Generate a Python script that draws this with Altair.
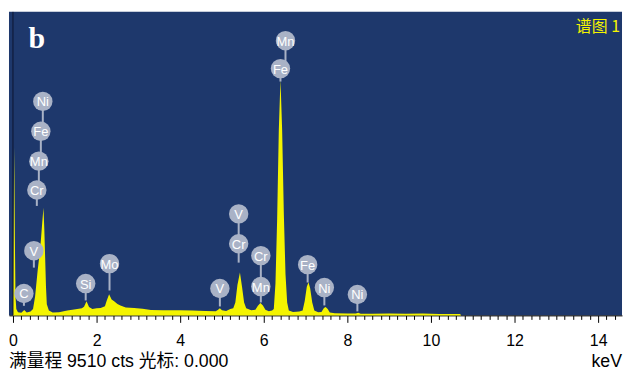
import altair as alt
import pandas as pd

# ---- spectrum (keV, counts) ----
energy_kev = [-0.09, 0.0, 0.02, 0.03, 0.045, 0.06, 0.08, 0.12, 0.20, 0.27, 0.33, 0.42,
              0.48, 0.53, 0.59, 0.63, 0.667, 0.70, 0.73, 0.75, 0.77, 0.79, 0.81, 0.86,
              0.95, 1.10, 1.30, 1.50, 1.65, 1.70, 1.76, 1.82, 1.90, 2.00, 2.10, 2.20,
              2.24, 2.30, 2.36, 2.42, 2.50, 2.57, 2.70, 2.90, 3.10, 3.30, 3.60, 4.00,
              4.30, 4.60, 4.85, 4.90, 4.95, 5.00, 5.10, 5.20, 5.27, 5.32, 5.37, 5.43,
              5.48, 5.53, 5.58, 5.70, 5.80, 5.86, 5.92, 5.98, 6.04, 6.12, 6.20, 6.24,
              6.28, 6.32, 6.36, 6.40, 6.44, 6.48, 6.52, 6.56, 6.60, 6.70, 6.85, 6.93,
              6.98, 7.03, 7.07, 7.11, 7.16, 7.21, 7.30, 7.38, 7.44, 7.48, 7.53, 7.58,
              7.70, 8.00, 8.20, 8.26, 8.32, 8.60, 9.00, 9.40, 9.80, 10.20, 10.50, 10.70,
              10.72, 14.6]
counts = [0, 0, 3500, 5270, 2500, 600, 200, 100, 80, 170, 90, 120,
          200, 600, 1400, 1850, 2340, 2900, 3370, 2700, 1810, 900, 350, 150,
          90, 100, 150, 190, 220, 270, 440, 260, 200, 220, 230, 290,
          450, 660, 500, 440, 360, 310, 250, 230, 210, 170, 160, 160,
          150, 140, 130, 170, 220, 160, 140, 200, 220, 400, 950, 1340,
          900, 400, 220, 160, 180, 300, 390, 310, 180, 130, 150, 200,
          1000, 3000, 5800, 7390, 5800, 3200, 1300, 400, 150, 110, 120, 150,
          450, 900, 1040, 850, 400, 150, 100, 110, 230, 260, 200, 90,
          70, 60, 60, 80, 55, 50, 60, 50, 60, 45, 40, 40,
          0, 0]

# ---- element badges ----
badge_text = ["Ni", "Fe", "Mn", "Cr", "V", "C", "Si", "Mo",
              "Mn", "Fe", "V", "Cr", "Cr", "Mn", "V", "Fe", "Ni", "Ni"]
badge_kev = [0.714, 0.667, 0.619, 0.571, 0.50, 0.262, 1.74, 2.31,
             6.52, 6.40, 5.40, 5.40, 5.93, 5.93, 4.95, 7.05, 7.45, 8.24]
badge_cts = [6704, 5768, 4833, 3929, 2027, 686, 998, 1621,
             8606, 7733, 3180, 2245, 1871, 904, 842, 1590, 873, 655]
stem_end_cts = [5768, 4833, 3929, 3430, 1497, 300, 468, 780,
                7733, 7327, 2245, 1653, 904, 405, 280, 1030, 312, 125]

tick_values = [round(i * 0.2, 1) for i in range(0, 73)]
label_values = [0, 2, 4, 6, 8, 10, 12, 14]

BLUE = "#1e386c"
YELLOW = "#f4f400"
BADGE = "#a9b2c6"

spec = pd.DataFrame({"keV": energy_kev, "cts": counts})
badges = pd.DataFrame({"label": badge_text, "keV": badge_kev,
                       "cts": badge_cts, "end": stem_end_cts})
cursor_df = pd.DataFrame({"keV": [0.0], "cts": [0]})

x_scale = alt.Scale(domain=[-0.095, 14.571], nice=False, zero=False)
y_scale = alt.Scale(domain=[0, 9510], nice=False)

is_major = "indexof(" + str(label_values) + ", datum.value) >= 0"

x_axis = alt.Axis(
    values=tick_values,
    labelExpr=is_major + " ? '' + datum.value : ''",
    tickSize={"condition": {"test": is_major, "value": 7}, "value": 4},
    tickColor="black", tickWidth=1,
    domainColor="black", domainWidth=1,
    labelFont="Liberation Sans", labelFontSize=16, labelColor="black",
    labelPadding=10, labelOverlap=False, labelFlush=False, labelBound=False,
    grid=False, title=None,
)


def X(field="keV:Q"):
    return alt.X(field, scale=x_scale, axis=x_axis)


def Y(field="cts:Q"):
    return alt.Y(field, scale=y_scale, axis=None)


area = alt.Chart(spec).mark_area(color=YELLOW, interpolate="linear").encode(
    x=X(), y=Y(),
)

cursor = alt.Chart(cursor_df).mark_rule(color="#0d1530", strokeWidth=1).encode(
    x=X(), y=alt.value(0), y2=alt.value(305),
)

stems = alt.Chart(badges).mark_rule(color=BADGE, strokeWidth=2).encode(
    x=X(), y=Y(), y2="end:Q",
)

circles = alt.Chart(badges).mark_circle(size=380, color=BADGE, opacity=1).encode(
    x=X(), y=Y(),
)

badge_labels = alt.Chart(badges).mark_text(
    color="white", font="Liberation Sans", fontSize=13,
    align="center", baseline="middle", dy=1
).encode(x=X(), y=Y(), text="label:N")

panel_letter = alt.Chart(pd.DataFrame({"t": ["b"]})).mark_text(
    color="white", font="Liberation Serif", fontWeight="bold", fontSize=30,
    align="center", baseline="alphabetic"
).encode(x=alt.value(28), y=alt.value(36), text="t:N")

spectrum_name = alt.Chart(pd.DataFrame({"t": ["谱图 1"]})).mark_text(
    color=YELLOW, font="Noto Sans CJK SC", fontSize=16,
    align="right", baseline="alphabetic"
).encode(x=alt.value(614), y=alt.value(20), text="t:N")

footer = alt.Chart(pd.DataFrame({"t": ["满量程 9510 cts 光标: 0.000"]})).mark_text(
    color="black", font="Liberation Sans, Noto Sans CJK SC", fontSize=17.8,
    align="left", baseline="alphabetic"
).encode(x=alt.value(0), y=alt.value(357), text="t:N")

unit = alt.Chart(pd.DataFrame({"t": ["keV"]})).mark_text(
    color="black", font="Liberation Sans", fontSize=17.8,
    align="right", baseline="alphabetic"
).encode(x=alt.value(616), y=alt.value(357), text="t:N")

chart = alt.layer(
    area, cursor, stems, circles, badge_labels,
    panel_letter, spectrum_name, footer, unit
).properties(
    width=616, height=305,
    padding={"left": 0, "top": 2, "right": 0, "bottom": 0},
    background="white",
).configure_view(fill=BLUE, strokeWidth=0)

chart.save("out.html", embed_options={"renderer": "svg", "actions": False})
